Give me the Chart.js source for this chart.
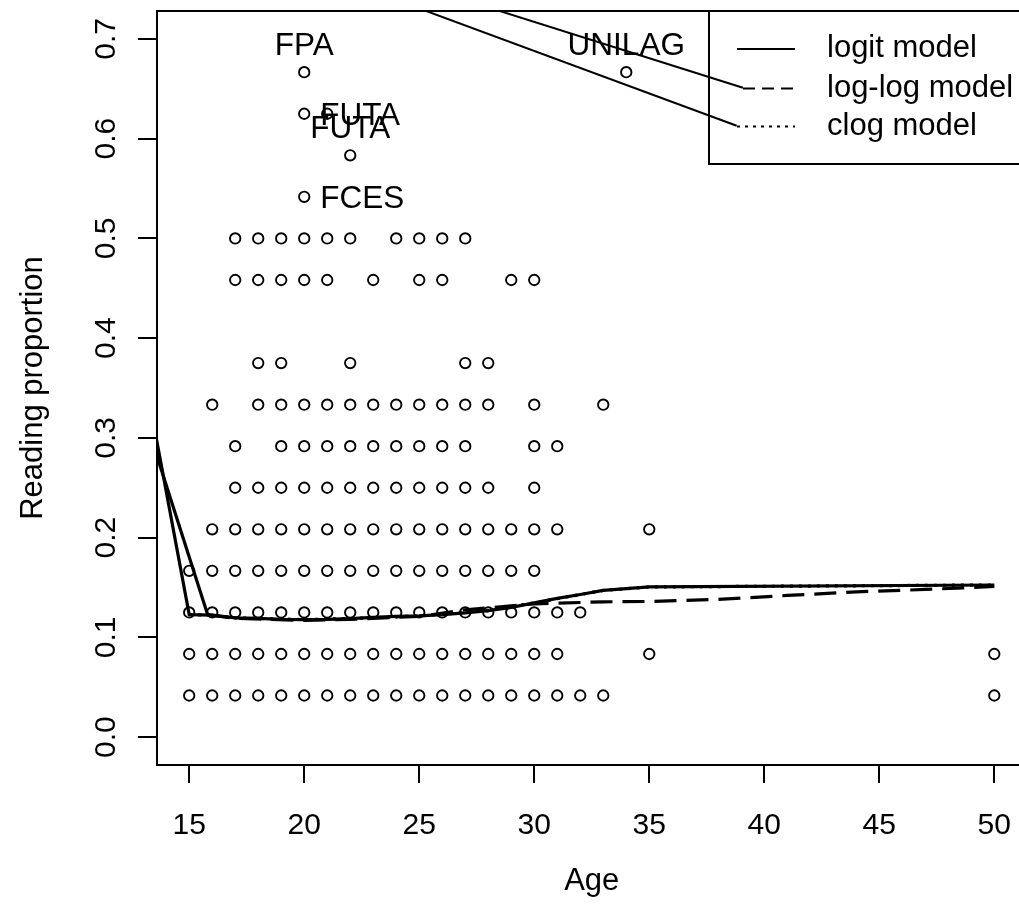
<!DOCTYPE html>
<html>
<head>
<meta charset="utf-8">
<title>Reading proportion by age</title>
<script src="https://cdn.jsdelivr.net/npm/chart.js@4"></script>
<style>
  html, body { margin: 0; padding: 0; background: #fff; overflow: hidden; }
  #wrap { width: 1019px; height: 920px; overflow: hidden; }
</style>
</head>
<body>
<div id="wrap"><canvas id="myChart" width="1040" height="920"></canvas></div>
<script>
const FONT = '"Liberation Sans", Arial, Helvetica, sans-serif';

// axis ticks
const xTicks = [15, 20, 25, 30, 35, 40, 45, 50];
const yTicks = [0, 0.1, 0.2, 0.3, 0.4, 0.5, 0.6, 0.7];
const yTickLabels = ["0.0", "0.1", "0.2", "0.3", "0.4", "0.5", "0.6", "0.7"];

// observed proportions: one row per proportion level, ages present in that row
const rowProportion = [0.0417, 0.0833, 0.125, 0.1667, 0.2083, 0.25, 0.2917, 0.3333,
                       0.375, 0.4583, 0.5, 0.5417, 0.5833, 0.625, 0.6667];
const agesByRow = [
  [15, 16, 17, 18, 19, 20, 21, 22, 23, 24, 25, 26, 27, 28, 29, 30, 31, 32, 33, 50],
  [15, 16, 17, 18, 19, 20, 21, 22, 23, 24, 25, 26, 27, 28, 29, 30, 31, 35, 50],
  [15, 16, 17, 18, 19, 20, 21, 22, 23, 24, 25, 26, 27, 28, 29, 30, 31, 32],
  [15, 16, 17, 18, 19, 20, 21, 22, 23, 24, 25, 26, 27, 28, 29, 30],
  [16, 17, 18, 19, 20, 21, 22, 23, 24, 25, 26, 27, 28, 29, 30, 31, 35],
  [17, 18, 19, 20, 21, 22, 23, 24, 25, 26, 27, 28, 30],
  [17, 19, 20, 21, 22, 23, 24, 25, 26, 27, 30, 31],
  [16, 18, 19, 20, 21, 22, 23, 24, 25, 26, 27, 28, 30, 33],
  [18, 19, 22, 27, 28],
  [17, 18, 19, 20, 21, 23, 25, 26, 29, 30],
  [17, 18, 19, 20, 21, 22, 24, 25, 26, 27],
  [20],
  [22],
  [20, 21],
  [20, 34]
];

// fitted model curves
const logitAge = [13, 15, 16, 17, 18, 19, 20, 21, 22, 23, 24, 25, 26, 27, 28, 29, 30, 31, 32, 33, 35, 50];
const logitFit = [0.37, 0.1228, 0.1222, 0.1195, 0.119, 0.118, 0.1178, 0.118, 0.1188, 0.12, 0.121,
                  0.1215, 0.1228, 0.1245, 0.1268, 0.130, 0.1346, 0.139, 0.143, 0.147, 0.1505, 0.1525];
const logitEdgeAge = [13, 15.8];
const logitEdgeFit = [0.325, 0.1228];
const loglogAge = [15.8, 17, 20, 22, 25, 27, 30, 33, 35, 38, 41, 44, 47, 50];
const loglogFit = [0.1228, 0.119, 0.117, 0.118, 0.121, 0.1275, 0.1336, 0.1356, 0.136,
                   0.138, 0.142, 0.1456, 0.148, 0.151];
const clogAge = [15, 16, 17, 20, 22, 25, 28, 30, 33, 35, 50];
const clogFit = [0.1228, 0.1222, 0.1195, 0.1178, 0.1188, 0.1215, 0.1268, 0.1346, 0.147, 0.1505, 0.1525];

// stray segments running into the legend keys
const loglogLeadAge = [6.4, 39.07];
const loglogLeadFit = [0.889, 0.651];
const clogLeadAge = [6.4, 38.8];
const clogLeadFit = [0.889, 0.613];

// point labels
const labelText = ["FPA", "UNILAG", "FUTA", "FUTA", "FCES"];
const labelAge = [20, 34, 20, 22, 20];
const labelProp = [0.6667, 0.6667, 0.625, 0.5833, 0.5417];
const labelPos = [3, 3, 4, 3, 4];

const legendText = ["logit model", "log-log model", "clog model"];

const toXY = (xs, ys) => xs.map((v, i) => ({ x: v, y: ys[i] }));

const obsPoints = [];
rowProportion.forEach((p, i) => {
  for (const a of agesByRow[i]) obsPoints.push({ x: a, y: p });
});

const rDecor = {
  id: "rDecor",
  afterDatasetsDraw(chart) {
    const { ctx, chartArea: a, scales: { x, y } } = chart;
    ctx.save();
    ctx.fillStyle = "#000";
    ctx.strokeStyle = "#000";

    // labels next to the outlying points
    ctx.font = "31.5px " + FONT;
    ctx.textBaseline = "alphabetic";
    labelText.forEach((t, i) => {
      const px = x.getPixelForValue(labelAge[i]);
      const py = y.getPixelForValue(labelProp[i]);
      if (labelPos[i] === 3) {
        ctx.textAlign = "center";
        ctx.fillText(t, px, py - 17);
      } else {
        ctx.textAlign = "left";
        ctx.fillText(t, px + 16, py + 11);
      }
    });

    // plot frame
    ctx.lineWidth = 2;
    ctx.strokeRect(a.left, a.top, a.right - a.left, a.bottom - a.top);

    // y tick labels, rotated like R's default
    ctx.font = "30px " + FONT;
    ctx.textAlign = "center";
    yTicks.forEach((v, i) => {
      ctx.save();
      ctx.translate(115, y.getPixelForValue(v));
      ctx.rotate(-Math.PI / 2);
      ctx.fillText(yTickLabels[i], 0, 0);
      ctx.restore();
    });

    // legend box
    const lx = 709, ly = a.top, lh = 153;
    ctx.lineWidth = 2;
    ctx.strokeRect(lx, ly, 400, lh);
    const rowY = [49, 88.5, 126.5];
    const keyStart = [737, 743, 737];
    const dashes = [[], [12, 7], [3, 5]];
    rowY.forEach((ry, i) => {
      ctx.setLineDash(dashes[i]);
      ctx.beginPath();
      ctx.moveTo(keyStart[i], ry);
      ctx.lineTo(795, ry);
      ctx.stroke();
    });
    ctx.setLineDash([]);
    ctx.font = "31px " + FONT;
    ctx.textAlign = "left";
    legendText.forEach((t, i) => ctx.fillText(t, 827, rowY[i] + 8));
    ctx.restore();
  }
};

const lineSet = (label, data, width, dash, order) => ({
  label, data, showLine: true, borderColor: "#000", borderWidth: width,
  borderDash: dash, pointRadius: 0, fill: false, tension: 0, clip: 0, order
});

new Chart(document.getElementById("myChart").getContext("2d"), {
  type: "scatter",
  data: {
    datasets: [
      lineSet("logit model", toXY(logitAge, logitFit), 3.2, [], 1),
      lineSet("logit model (edge)", toXY(logitEdgeAge, logitEdgeFit), 3.2, [], 2),
      lineSet("log-log model", toXY(loglogAge, loglogFit), 3.2, [22, 10], 3),
      lineSet("clog model", toXY(clogAge, clogFit), 3.2, [3, 6], 4),
      lineSet("log-log lead", toXY(loglogLeadAge, loglogLeadFit), 2, [], 5),
      lineSet("clog lead", toXY(clogLeadAge, clogLeadFit), 2, [], 6),
      {
        label: "observed", data: obsPoints, pointStyle: "circle", pointRadius: 5.2,
        pointBorderWidth: 1.9, borderColor: "#000", backgroundColor: "rgba(0,0,0,0)",
        showLine: false, clip: false, order: 10
      }
    ]
  },
  options: {
    responsive: false,
    animation: false,
    devicePixelRatio: 1,
    layout: { padding: { top: 11, right: 13.5, left: 0, bottom: 0 } },
    plugins: { legend: { display: false }, tooltip: { enabled: false } },
    scales: {
      x: {
        type: "linear", min: 13.6, max: 51.4,
        afterBuildTicks: (s) => { s.ticks = xTicks.map((v) => ({ value: v })); },
        afterFit: (s) => { s.height = 155; },
        grid: { drawOnChartArea: false, drawTicks: true, tickLength: 18, color: "#000", lineWidth: 2 },
        border: { display: false },
        ticks: { color: "#000", font: { size: 30, family: FONT }, padding: 25, maxRotation: 0, autoSkip: false },
        title: { display: true, text: "Age", color: "#000", font: { size: 31, family: FONT }, padding: { top: 0, bottom: 20 } }
      },
      y: {
        type: "linear", min: -0.028, max: 0.728,
        afterBuildTicks: (s) => { s.ticks = yTicks.map((v) => ({ value: v })); },
        afterFit: (s) => { s.width = 157; },
        grid: { drawOnChartArea: false, drawTicks: true, tickLength: 19, color: "#000", lineWidth: 2 },
        border: { display: false },
        ticks: { display: false },
        title: { display: true, text: "Reading proportion", color: "#000", font: { size: 31, family: FONT }, padding: { top: 15, bottom: 0 } }
      }
    }
  },
  plugins: [rDecor]
});
</script>
</body>
</html>
